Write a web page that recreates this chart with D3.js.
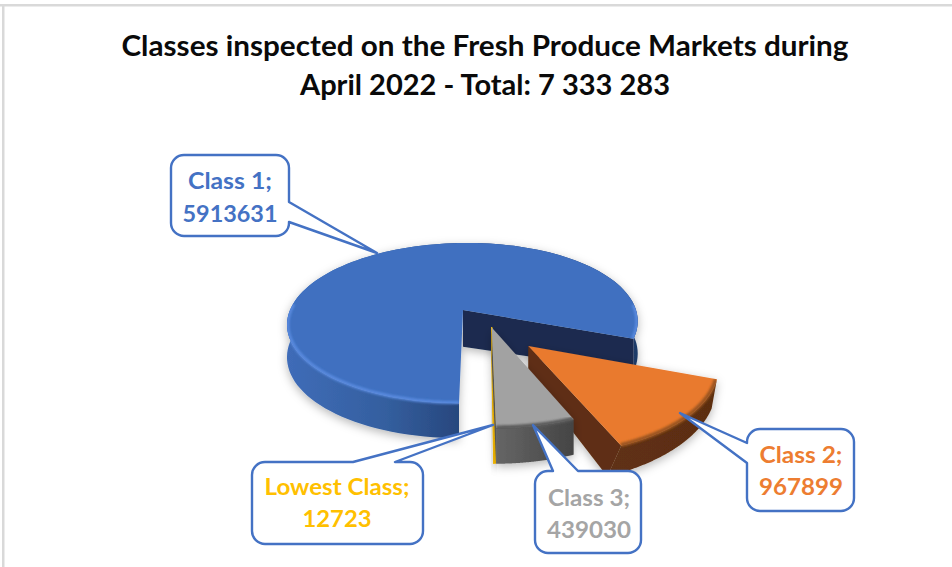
<!DOCTYPE html>
<html>
<head>
<meta charset="utf-8">
<script src="https://cdn.jsdelivr.net/npm/d3@7"></script>
<style>
html,body{margin:0;padding:0;background:#fff;}
svg{display:block;}
text{font-family:Lato,"Open Sans",sans-serif;font-weight:700;}
</style>
</head>
<body>
<div id="chart"></div>
<script>
// ---- data ----
const categories = ["Class 1", "Class 2", "Class 3", "Lowest Class"];
const values = [5913631, 967899, 439030, 12723];
const titleLines = ["Classes inspected on the Fresh Produce Markets during", "April 2022 - Total: 7 333 283"];
const topColors = ["#3f70c0", "#e97a2e", "#a2a2a2", "#ffc000"];
const labelColors = ["#4472c4", "#ed7d31", "#a5a5a5", "#ffc000"];
const rimColors = ["#5a8be0", "#9a5520", "#5a5a5a", "#ffc000"];
// explosion offset of each slice on the pie plane, in radii
const explodeU = [0, 0.36, 0.165, 0.165];
const explodeV = [0, 0.43, 0.215, 0.215];
// how each slice's thickness is drawn
const depthScale = [1, 0.85, 1, 1];
const depthSkew = [0, -15, 0, 0];

// ---- layout ----
const W = 952, H = 567;
const P = {cx: 463, cy: 310, R: 173, A: 78, k: 0.1625, shear: -4, depth: 32};
const callouts = [
  {box: [171, 155, 289, 236], ptr: [[290, 202], [377, 253], [290, 222]], cx: 230, y: [189, 222], w: [84, 95]},
  {box: [747, 429, 854, 511], ptr: [[748, 443], [680, 413], [748, 463]], cx: 801, y: [463, 495], w: [83, 84]},
  {box: [535, 471, 641, 553], ptr: [[553, 471], [533, 425], [578, 471]], cx: 589, y: [506, 538], w: [82, 84]},
  {box: [252, 462, 423, 544], ptr: [[353, 462], [493, 425], [395, 462]], cx: 337, y: [495, 527], w: [145, 69]}
];

const svg = d3.select("#chart").append("svg").attr("width", W).attr("height", H);
const defs = svg.append("defs");
const shadow = defs.append("filter").attr("id", "shadow")
  .attr("x", "-10%").attr("y", "-10%").attr("width", "120%").attr("height", "125%");
shadow.append("feDropShadow").attr("dx", 0).attr("dy", 3).attr("stdDeviation", 5)
  .attr("flood-color", "#000").attr("flood-opacity", 0.28);
defs.append("filter").attr("id", "soft").append("feGaussianBlur").attr("stdDeviation", 1.1);

const gradients = [
  [[0, "#3f6cb8"], [0.28, "#345f9f"], [0.5, "#27467c"], [1, "#1f3a68"]],
  [[0, "#5f3013"], [1, "#5c2e11"]],
  [[0, "#666666"], [1, "#444444"]],
  [[0, "#ffc000"], [1, "#ffc000"]]
];
gradients.forEach((g, i) => {
  const lg = defs.append("linearGradient").attr("id", "side" + i);
  g.forEach(s => lg.append("stop").attr("offset", s[0]).attr("stop-color", s[1]));
});

// frame of the cropped picture
svg.append("rect").attr("x", 0).attr("y", 4).attr("width", W).attr("height", 2.5).attr("fill", "#d9d9d9");
svg.append("rect").attr("x", 2).attr("y", 4).attr("width", 2.5).attr("height", H).attr("fill", "#d9d9d9");

// title
svg.selectAll("text.title").data(titleLines).join("text").attr("class", "title")
  .attr("x", 485).attr("y", (d, i) => i ? 95 : 56)
  .attr("text-anchor", "middle").attr("font-size", 28).attr("fill", "#0a0a0a")
  .attr("textLength", (d, i) => i ? 370 : 727).attr("lengthAdjust", "spacingAndGlyphs")
  .text(d => d);

// ---- pie ----
const arcs = d3.pie().sort(null).startAngle(Math.PI).endAngle(3 * Math.PI)(values);

// z is the share of the slice thickness (0 on top, 1 at the bottom)
function project(i, a, r, z) {
  const u = explodeU[i] + r * Math.sin(a);
  const v = explodeV[i] - r * Math.cos(a);
  const d = 1 - P.k * v;
  const drop = z * P.depth * depthScale[i] * Math.sqrt(1 / d);
  const skew = z * depthSkew[i] * (-r * Math.cos(a));
  return [P.cx + P.R * u / d + P.shear * v + skew, P.cy + P.A * v / d + drop];
}
const line = d3.line();
const sweep = (s, e) => d3.range(0, 121).map(t => s + (e - s) * t / 120);

function topPath(i) {
  const {startAngle: s, endAngle: e} = arcs[i];
  return line([project(i, 0, 0, 0), ...sweep(s, e).map(a => project(i, a, 1, 0))]) + "Z";
}
function bandPath(i) {
  const {startAngle: s, endAngle: e} = arcs[i];
  const ang = sweep(s, e);
  return line([...ang.map(a => project(i, a, 1, 0)), ...ang.slice().reverse().map(a => project(i, a, 1, 1))]) + "Z";
}
function facePath(i, a, apexZ) {
  return line([project(i, 0, 0, 0), project(i, a, 1, 0), project(i, a, 1, 1), project(i, 0, 0, apexZ)]) + "Z";
}
function frontRim(i) {
  const {startAngle: s, endAngle: e} = arcs[i];
  // only the part of the rim that faces the viewer
  const rim = d3.line().defined(a => Math.cos(a) < 0.1)
    .x(a => project(i, a, 0.995, 0)[0]).y(a => project(i, a, 0.995, 0)[1]);
  return rim(sweep(s, e));
}

const pie = svg.append("g").attr("class", "pie");
[0, 1, 3, 2].forEach(i => {
  const g = pie.append("g").attr("class", "slice").attr("filter", "url(#shadow)");
  g.append("path").attr("d", bandPath(i)).attr("fill", `url(#side${i})`);
  if (i === 0) {
    g.append("path").attr("d", facePath(i, arcs[i].endAngle, 1.15)).attr("fill", "#1a2c50");
  }
  if (i === 1) {
    g.append("path").attr("d", facePath(i, arcs[i].endAngle, 1)).attr("fill", "#5e2f12");
  }
  if (i === 2) {
    g.append("path").attr("d", facePath(i, arcs[i].endAngle, 1)).attr("fill", "#555");
  }
  if (i === 3) {
    g.append("path").attr("d", facePath(i, arcs[i].endAngle, 1)).attr("fill", "#ffc000")
      .attr("stroke", "#ffc000").attr("stroke-width", 1);
  }
  g.append("path").attr("d", topPath(i)).attr("fill", topColors[i])
    .attr("stroke", i === 3 ? "#ffc000" : "none").attr("stroke-width", i === 3 ? 1 : 0);
  const clipId = "clip" + i;
  defs.append("clipPath").attr("id", clipId).append("path").attr("d", bandPath(i) + topPath(i));
  if (i !== 3) {
    g.append("g").attr("clip-path", `url(#${clipId})`).append("path").attr("d", frontRim(i))
      .attr("fill", "none").attr("stroke", rimColors[i]).attr("stroke-width", i === 0 ? 3 : 4)
      .attr("filter", "url(#soft)");
  }
});

// ---- callouts ----
function calloutPath(c) {
  const [x0, y0, x1, y1] = c.box, r = 13;
  const p = d3.path();
  const [a, t, b] = c.ptr;
  const onTop = a[1] === y0, onLeft = a[0] <= x0 + 2, onRight = a[0] >= x1 - 2;
  p.moveTo(x0 + r, y0);
  if (onTop) { p.lineTo(a[0], y0); p.lineTo(t[0], t[1]); p.lineTo(b[0], y0); }
  p.lineTo(x1 - r, y0);
  p.arcTo(x1, y0, x1, y0 + r, r);
  if (onRight) { p.lineTo(x1, a[1]); p.lineTo(t[0], t[1]); p.lineTo(x1, b[1]); }
  p.lineTo(x1, y1 - r);
  p.arcTo(x1, y1, x1 - r, y1, r);
  p.lineTo(x0 + r, y1);
  p.arcTo(x0, y1, x0, y1 - r, r);
  if (onLeft) { p.lineTo(x0, b[1]); p.lineTo(t[0], t[1]); p.lineTo(x0, a[1]); }
  p.lineTo(x0, y0 + r);
  p.arcTo(x0, y0, x0 + r, y0, r);
  p.closePath();
  return p.toString();
}
const labels = svg.append("g").attr("class", "labels").selectAll("g").data(callouts).join("g");
labels.append("path").attr("d", calloutPath).attr("fill", "#fff")
  .attr("stroke", "#4472c4").attr("stroke-width", 2.4).attr("stroke-linejoin", "round");
labels.each(function (c, i) {
  const rows = [categories[i] + ";", String(values[i])];
  d3.select(this).selectAll("text").data(rows).join("text")
    .attr("x", c.cx).attr("y", (d, j) => c.y[j])
    .attr("text-anchor", "middle").attr("font-size", 23).attr("fill", labelColors[i])
    .attr("textLength", (d, j) => c.w[j]).attr("lengthAdjust", "spacingAndGlyphs")
    .text(d => d);
});
</script>
</body>
</html>
